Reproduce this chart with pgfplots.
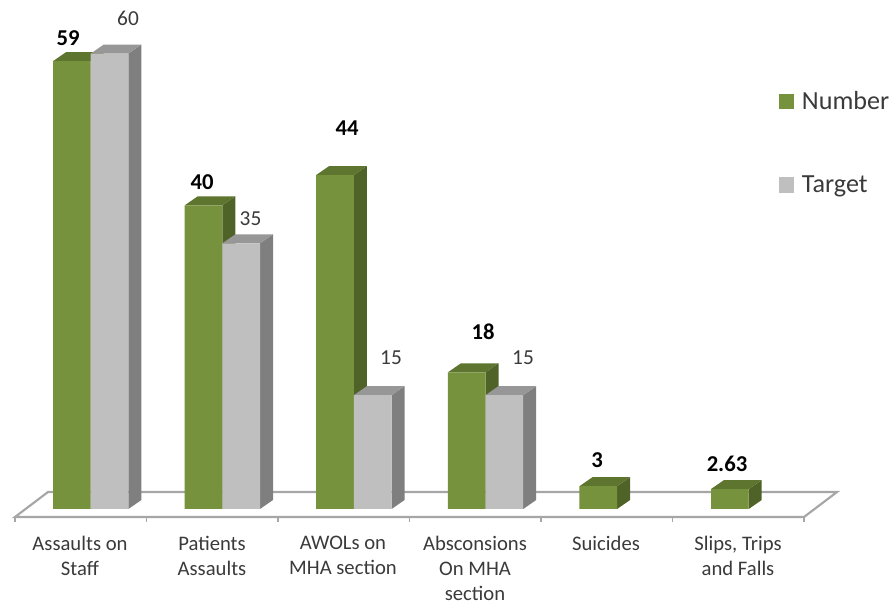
\documentclass[border=0pt]{standalone}
\usepackage{fontspec}
\setmainfont{Carlito}
\usepackage{pgfplots}
\usepackage{pgfplotstable}
\pgfplotsset{compat=1.18}

\definecolor{numfront}{HTML}{76923C}
\definecolor{numside}{HTML}{4F6228}
\definecolor{numtop}{HTML}{5E7530}
\definecolor{tarfront}{HTML}{BFBFBF}
\definecolor{tarside}{HTML}{7F7F7F}
\definecolor{tartop}{HTML}{979797}
\definecolor{floorline}{HTML}{A6A6A6}
\definecolor{labeltext}{HTML}{3A3A3A}

% left edge of each front face, and the value
\pgfplotstableread{
left value
53.0 59
184.6 40
316.2 44
447.8 18
579.4 3
711.0 2.63
}\numbertable
\pgfplotstableread{
left value
90.7 60
222.3 35
353.9 15
485.5 15
}\targettable

\newcommand{\barw}{37.7}
\newcommand{\depx}{13}
\newcommand{\depy}{1.186}
% vertical position in value units from a height measured down from the top
\newcommand{\py}[1]{{(509-#1)/7.59}}

% top and side faces of one bar in receding view
\newcommand{\drawbox}[4]{%
  \pgfmathsetmacro{\bl}{#1}%
  \pgfmathsetmacro{\br}{#1+\barw}%
  \pgfmathsetmacro{\brb}{#1+\barw+\depx}%
  \pgfmathsetmacro{\blb}{#1+\depx}%
  \pgfmathsetmacro{\vt}{#2}%
  \pgfmathsetmacro{\vb}{#2+\depy}%
  \addplot[fill=#3,draw=none,forget plot] coordinates {(\br,0) (\brb,\depy) (\brb,\vb) (\br,\vt)} -- cycle;
  \addplot[fill=#4,draw=none,forget plot] coordinates {(\bl,\vt) (\blb,\vb) (\brb,\vb) (\br,\vt)} -- cycle;
}
\pgfplotsset{
  square key/.style={/pgfplots/legend image code/.code={\fill[fill=#1,draw=none] (0pt,-6pt) rectangle (11pt,5.5pt); \path (17pt,0pt);}},
}

\begin{document}
\begin{tikzpicture}
\useasboundingbox (0,0) rectangle (669pt,452.25pt);
\begin{axis}[
  scale only axis,
  width=669pt,height=452.25pt,
  xmin=0,xmax=892,
  ymin=-12.385,ymax=67.06,
  hide axis,
  clip=false,
  legend style={at={(axis cs:779,{(509-91)/7.59})},anchor=north west,draw=none,fill=none,
    font=\fontsize{19.6}{22}\selectfont\color{labeltext},
    row sep=48pt,inner sep=0pt,
    nodes={inner sep=0pt}},
  legend cell align=left,
]
% floor of the chart
\addplot[fill=white,draw=floorline,line width=1.6pt,forget plot]
  coordinates {(15,-1.054) (48,2.24) (837,2.24) (804,-1.054)} -- cycle;
\pgfplotsinvokeforeach{15,146.5,278,409.5,541,672.5,804}{
  \addplot[draw=floorline,line width=1.4pt,forget plot] coordinates {(#1,-1.054) (#1,-1.713)};
}

% Number series
\pgfplotsforeachungrouped \i in {0,...,5}{
  \pgfplotstablegetelem{\i}{left}\of\numbertable \let\thisleft\pgfplotsretval
  \pgfplotstablegetelem{\i}{value}\of\numbertable \let\thisval\pgfplotsretval
  \drawbox{\thisleft}{\thisval}{numside}{numtop}
}
\addplot[ybar,bar width=37.7,bar shift=0pt,fill=numfront,draw=none,square key=numfront]
  table[x expr=\thisrow{left}+18.85,y=value] {\numbertable};
\addlegendentry{Number}

% Target series
\pgfplotsforeachungrouped \i in {0,...,3}{
  \pgfplotstablegetelem{\i}{left}\of\targettable \let\thisleft\pgfplotsretval
  \pgfplotstablegetelem{\i}{value}\of\targettable \let\thisval\pgfplotsretval
  \drawbox{\thisleft}{\thisval}{tarside}{tartop}
}
\addplot[ybar,bar width=37.7,bar shift=0pt,fill=tarfront,draw=none,square key=tarfront]
  table[x expr=\thisrow{left}+18.85,y=value] {\targettable};
\addlegendentry{Target}

% value labels
\begin{scope}[every node/.style={font=\fontsize{17}{19}\selectfont\bfseries,text=black,inner sep=0pt}]
  \node at (axis cs:68,\py{38}) {59};
  \node at (axis cs:202,\py{182}) {40};
  \node at (axis cs:347,\py{128}) {44};
  \node at (axis cs:483,\py{332}) {18};
  \node at (axis cs:597,\py{460}) {3};
  \node at (axis cs:727,\py{464}) {2.63};
\end{scope}
\begin{scope}[every node/.style={font=\fontsize{16}{18}\selectfont,text=labeltext,inner sep=0pt}]
  \node at (axis cs:128,\py{18}) {60};
  \node at (axis cs:250.5,\py{219}) {35};
  \node at (axis cs:391,\py{358}) {15};
  \node at (axis cs:523,\py{358}) {15};
\end{scope}

% category names
\begin{scope}[every node/.style={font=\fontsize{15.5}{19}\selectfont,text=labeltext,inner sep=0pt,align=center,anchor=north}]
  \node at (axis cs:80,\py{535.5}) {Assaults on\\Staff};
  \node at (axis cs:212,\py{535.5}) {Patients\\Assaults};
  \node at (axis cs:343,\py{535.5}) {AWOLs on\\MHA section};
  \node at (axis cs:475,\py{535.5}) {Absconsions\\On MHA\\section};
  \node at (axis cs:606,\py{535.5}) {Suicides};
  \node at (axis cs:738,\py{535.5}) {Slips, Trips\\and Falls};
\end{scope}
\end{axis}
\end{tikzpicture}
\end{document}
